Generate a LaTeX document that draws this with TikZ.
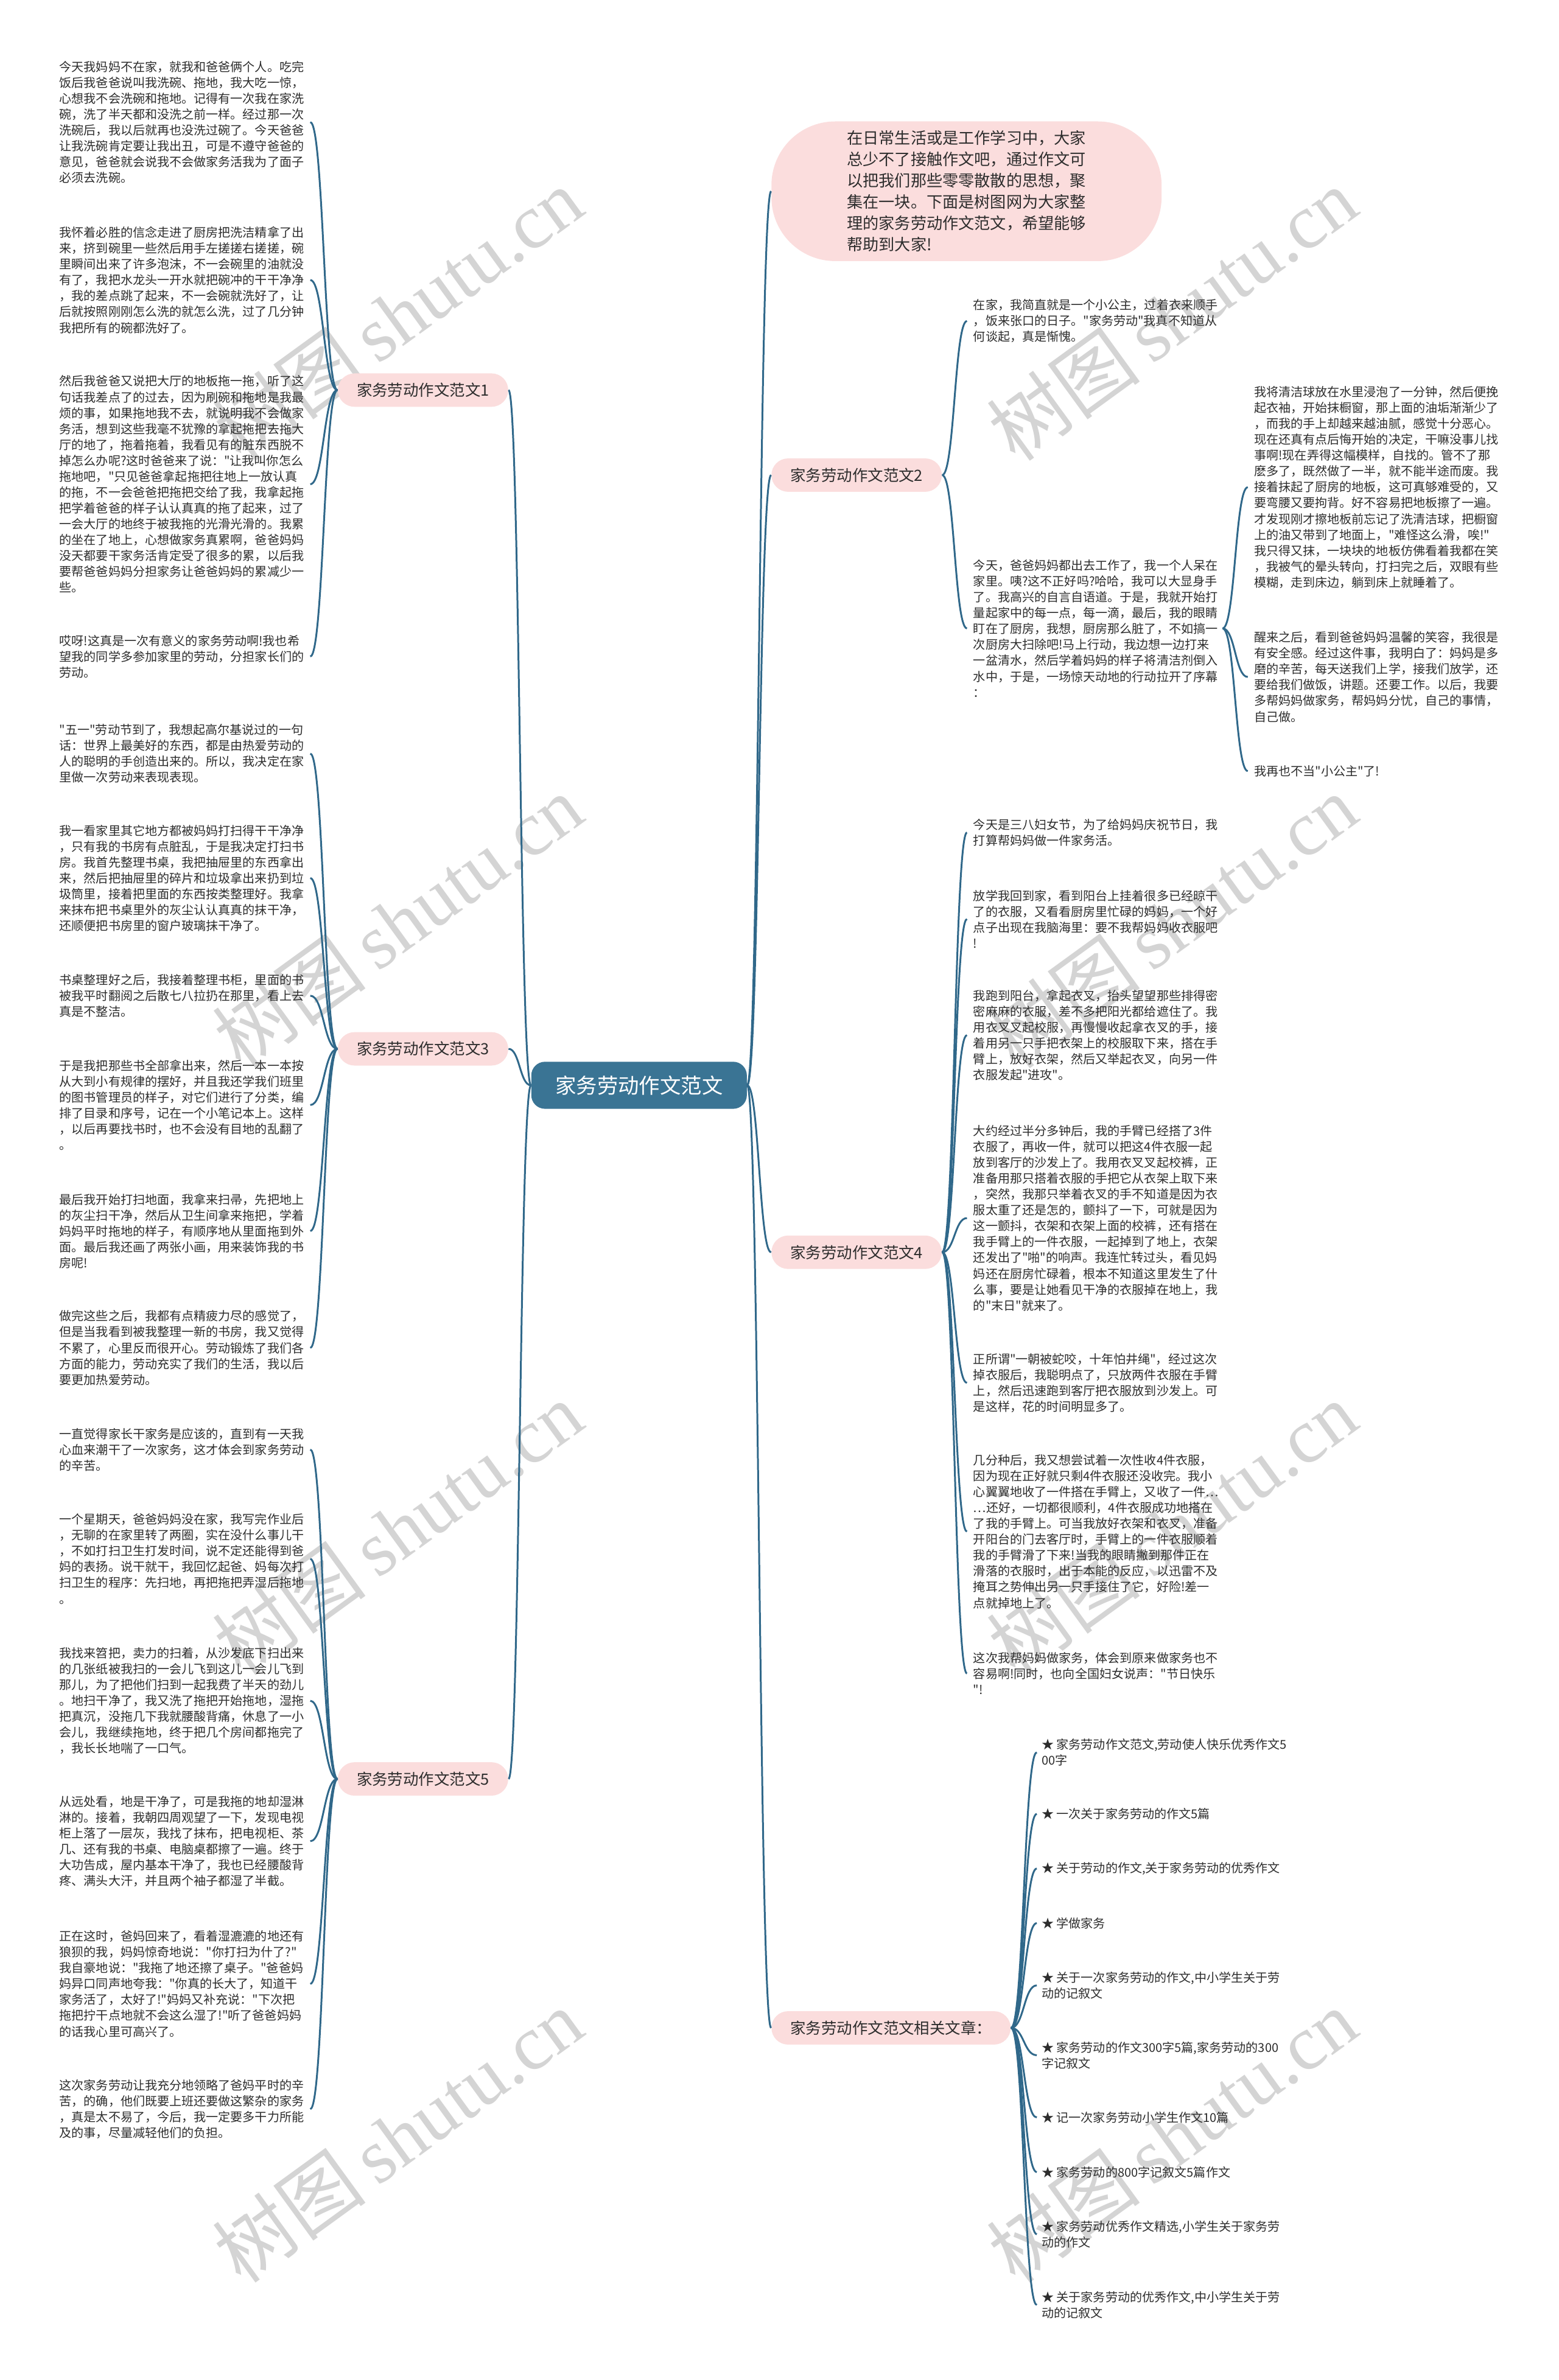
\documentclass[tikz,border=0pt]{standalone}
\usepackage{fontspec}
\setmainfont{Noto Sans CJK SC}
\newfontfamily\cjkfont{Noto Sans CJK SC}
\newfontfamily\wmfont{Liberation Serif}
\usetikzlibrary{positioning,calc}

\definecolor{mmblue}{RGB}{48,104,138}
\definecolor{mmroot}{RGB}{58,116,148}
\definecolor{mmpink}{RGB}{251,221,221}
\definecolor{mmtext}{RGB}{45,45,45}
\definecolor{wmgray}{RGB}{212,212,212}

\begin{document}
\begin{tikzpicture}[
    x=1pt, y=-1pt,
    root/.style={rectangle, rounded corners=9pt, fill=mmroot, text=white, font=\cjkfont\fontsize{13.8}{16}\selectfont, minimum width=142pt, minimum height=31pt},
    branch/.style={rectangle, rounded corners=11pt, fill=mmpink, text=mmtext, font=\cjkfont\fontsize{10.2}{12}\selectfont, minimum height=22pt, inner xsep=12.5pt},
    intro/.style={rectangle, rounded corners=42pt, fill=mmpink, text=mmtext, align=left, font=\cjkfont\fontsize{10.5}{14}\selectfont, minimum width=257pt, minimum height=92pt},
    leaf/.style={inner sep=0pt, align=left, text=mmtext, font=\cjkfont\fontsize{8.05}{10.45}\selectfont},
    line/.style={draw=mmblue, line width=1.2pt, to path={let \p1=(\tikztostart), \p2=(\tikztotarget) in .. controls ({(\x1+\x2)/2},\y1) and ({(\x1+\x2)/2},\y2) .. (\p2) \tikztonodes}},
    watermark/.style={text=wmgray, font=\cjkfont\fontsize{51}{51}\selectfont, rotate=36, inner sep=0pt}
]
    \fill [white] (0,0) rectangle (1027,1568);
    \useasboundingbox (0,0) rectangle (1027,1568);

    % Watermarks
    \node [watermark] (wm1) at (262,207) {树图\,{\wmfont shutu.cn}};
    \node [watermark] (wm2) at (262,607) {树图\,{\wmfont shutu.cn}};
    \node [watermark] (wm3) at (262,1007) {树图\,{\wmfont shutu.cn}};
    \node [watermark] (wm4) at (262,1407) {树图\,{\wmfont shutu.cn}};
    \node [watermark] (wm5) at (772,207) {树图\,{\wmfont shutu.cn}};
    \node [watermark] (wm6) at (772,607) {树图\,{\wmfont shutu.cn}};
    \node [watermark] (wm7) at (772,1007) {树图\,{\wmfont shutu.cn}};
    \node [watermark] (wm8) at (772,1407) {树图\,{\wmfont shutu.cn}};

    % Place nodes
    \node [root] (root) at (421,715) {家务劳动作文范文};

    \node [branch, anchor=east] (b1) at (335,257) {家务劳动作文范文1};
    \node [branch, anchor=east] (b3) at (335,691) {家务劳动作文范文3};
    \node [branch, anchor=east] (b5) at (335,1172) {家务劳动作文范文5};
    \node [branch, anchor=west] (b2) at (508,313) {家务劳动作文范文2};
    \node [branch, anchor=west] (b4) at (508,825) {家务劳动作文范文4};
    \node [branch, anchor=west] (b6) at (508,1336) {家务劳动作文范文相关文章：};

    \node [intro, anchor=west] (intro) at (508,126) {在日常生活或是工作学习中，大家\\
总少不了接触作文吧，通过作文可\\
以把我们那些零零散散的思想，聚\\
集在一块。下面是树图网为大家整\\
理的家务劳动作文范文，希望能够\\
帮助到大家!};

    % Essay 1
    \node [leaf, anchor=west] (l1a) at (39,80.5) {今天我妈妈不在家，就我和爸爸俩个人。吃完\\
饭后我爸爸说叫我洗碗、拖地，我大吃一惊，\\
心想我不会洗碗和拖地。记得有一次我在家洗\\
碗，洗了半天都和没洗之前一样。经过那一次\\
洗碗后，我以后就再也没洗过碗了。今天爸爸\\
让我洗碗肯定要让我出丑，可是不遵守爸爸的\\
意见，爸爸就会说我不会做家务活我为了面子\\
必须去洗碗。};
    \node [leaf, anchor=west] (l1b) at (39,184.5) {我怀着必胜的信念走进了厨房把洗洁精拿了出\\
来，挤到碗里一些然后用手左搓搓右搓搓，碗\\
里瞬间出来了许多泡沫，不一会碗里的油就没\\
有了，我把水龙头一开水就把碗冲的干干净净\\
，我的差点跳了起来，不一会碗就洗好了，让\\
后就按照刚刚怎么洗的就怎么洗，过了几分钟\\
我把所有的碗都洗好了。};
    \node [leaf, anchor=west] (l1c) at (39,319) {然后我爸爸又说把大厅的地板拖一拖，听了这\\
句话我差点了的过去，因为刷碗和拖地是我最\\
烦的事，如果拖地我不去，就说明我不会做家\\
务活，想到这些我毫不犹豫的拿起拖把去拖大\\
厅的地了，拖着拖着，我看见有的脏东西脱不\\
掉怎么办呢?这时爸爸来了说："让我叫你怎么\\
拖地吧，"只见爸爸拿起拖把往地上一放认真\\
的拖，不一会爸爸把拖把交给了我，我拿起拖\\
把学着爸爸的样子认认真真的拖了起来，过了\\
一会大厅的地终于被我拖的光滑光滑的。我累\\
的坐在了地上，心想做家务真累啊，爸爸妈妈\\
没天都要干家务活肯定受了很多的累，以后我\\
要帮爸爸妈妈分担家务让爸爸妈妈的累减少一\\
些。};
    \node [leaf, anchor=west] (l1d) at (39,432.5) {哎呀!这真是一次有意义的家务劳动啊!我也希\\
望我的同学多参加家里的劳动，分担家长们的\\
劳动。};

    % Essay 3
    \node [leaf, anchor=west] (l3a) at (39,496.5) {"五一"劳动节到了，我想起高尔基说过的一句\\
话：世界上最美好的东西，都是由热爱劳动的\\
人的聪明的手创造出来的。所以，我决定在家\\
里做一次劳动来表现表现。};
    \node [leaf, anchor=west] (l3b) at (39,578.5) {我一看家里其它地方都被妈妈打扫得干干净净\\
，只有我的书房有点脏乱，于是我决定打扫书\\
房。我首先整理书桌，我把抽屉里的东西拿出\\
来，然后把抽屉里的碎片和垃圾拿出来扔到垃\\
圾筒里，接着把里面的东西按类整理好。我拿\\
来抹布把书桌里外的灰尘认认真真的抹干净，\\
还顺便把书房里的窗户玻璃抹干净了。};
    \node [leaf, anchor=west] (l3c) at (39,656) {书桌整理好之后，我接着整理书柜，里面的书\\
被我平时翻阅之后散七八拉扔在那里，看上去\\
真是不整洁。};
    \node [leaf, anchor=west] (l3d) at (39,728) {于是我把那些书全部拿出来，然后一本一本按\\
从大到小有规律的摆好，并且我还学我们班里\\
的图书管理员的样子，对它们进行了分类，编\\
排了目录和序号，记在一个小笔记本上。这样\\
，以后再要找书时，也不会没有目地的乱翻了\\
。};
    \node [leaf, anchor=west] (l3e) at (39,811) {最后我开始打扫地面，我拿来扫帚，先把地上\\
的灰尘扫干净，然后从卫生间拿来拖把，学着\\
妈妈平时拖地的样子，有顺序地从里面拖到外\\
面。最后我还画了两张小画，用来装饰我的书\\
房呢!};
    \node [leaf, anchor=west] (l3f) at (39,888) {做完这些之后，我都有点精疲力尽的感觉了，\\
但是当我看到被我整理一新的书房，我又觉得\\
不累了，心里反而很开心。劳动锻炼了我们各\\
方面的能力，劳动充实了我们的生活，我以后\\
要更加热爱劳动。};

    % Essay 5
    \node [leaf, anchor=west] (l5a) at (39,955) {一直觉得家长干家务是应该的，直到有一天我\\
心血来潮干了一次家务，这才体会到家务劳动\\
的辛苦。};
    \node [leaf, anchor=west] (l5b) at (39,1027) {一个星期天，爸爸妈妈没在家，我写完作业后\\
，无聊的在家里转了两圈，实在没什么事儿干\\
，不如打扫卫生打发时间，说不定还能得到爸\\
妈的表扬。说干就干，我回忆起爸、妈每次打\\
扫卫生的程序：先扫地，再把拖把弄湿后拖地\\
。};
    \node [leaf, anchor=west] (l5c) at (39,1120.5) {我找来笤把，卖力的扫着，从沙发底下扫出来\\
的几张纸被我扫的一会儿飞到这儿一会儿飞到\\
那儿，为了把他们扫到一起我费了半天的劲儿\\
。地扫干净了，我又洗了拖把开始拖地，湿拖\\
把真沉，没拖几下我就腰酸背痛，休息了一小\\
会儿，我继续拖地，终于把几个房间都拖完了\\
，我长长地喘了一口气。};
    \node [leaf, anchor=west] (l5d) at (39,1213) {从远处看，地是干净了，可是我拖的地却湿淋\\
淋的。接着，我朝四周观望了一下，发现电视\\
柜上落了一层灰，我找了抹布，把电视柜、茶\\
几、还有我的书桌、电脑桌都擦了一遍。终于\\
大功告成，屋内基本干净了，我也已经腰酸背\\
疼、满头大汗，并且两个袖子都湿了半截。};
    \node [leaf, anchor=west] (l5e) at (39,1307) {正在这时，爸妈回来了，看着湿漉漉的地还有\\
狼狈的我，妈妈惊奇地说："你打扫为什了?"\\
我自豪地说："我拖了地还擦了桌子。"爸爸妈\\
妈异口同声地夸我："你真的长大了，知道干\\
家务活了，太好了!"妈妈又补充说："下次把\\
拖把拧干点地就不会这么湿了!"听了爸爸妈妈\\
的话我心里可高兴了。};
    \node [leaf, anchor=west] (l5f) at (39,1389.5) {这次家务劳动让我充分地领略了爸妈平时的辛\\
苦，的确，他们既要上班还要做这繁杂的家务\\
，真是太不易了，今后，我一定要多干力所能\\
及的事，尽量减轻他们的负担。};

    % Essay 2
    \node [leaf, anchor=west] (r2a) at (641,211.5) {在家，我简直就是一个小公主，过着衣来顺手\\
，饭来张口的日子。"家务劳动"我真不知道从\\
何谈起，真是惭愧。};
    \node [leaf, anchor=west] (r2b) at (641,414) {今天，爸爸妈妈都出去工作了，我一个人呆在\\
家里。咦?这不正好吗?哈哈，我可以大显身手\\
了。我高兴的自言自语道。于是，我就开始打\\
量起家中的每一点，每一滴，最后，我的眼睛\\
盯在了厨房，我想，厨房那么脏了，不如搞一\\
次厨房大扫除吧!马上行动，我边想一边打来\\
一盆清水，然后学着妈妈的样子将清洁剂倒入\\
水中，于是，一场惊天动地的行动拉开了序幕\\
：};
    \node [leaf, anchor=west] (fr1) at (826,321) {我将清洁球放在水里浸泡了一分钟，然后便挽\\
起衣袖，开始抹橱窗，那上面的油垢渐渐少了\\
，而我的手上却越来越油腻，感觉十分恶心。\\
现在还真有点后悔开始的决定，干嘛没事儿找\\
事啊!现在弄得这幅模样，自找的。管不了那\\
麽多了，既然做了一半，就不能半途而废。我\\
接着抹起了厨房的地板，这可真够难受的，又\\
要弯腰又要拘背。好不容易把地板擦了一遍。\\
才发现刚才擦地板前忘记了洗清洁球，把橱窗\\
上的油又带到了地面上，"难怪这么滑，唉!"\\
我只得又抹，一块块的地板仿佛看着我都在笑\\
，我被气的晕头转向，打扫完之后，双眼有些\\
模糊，走到床边，躺到床上就睡着了。};
    \node [leaf, anchor=west] (fr2) at (826,446) {醒来之后，看到爸爸妈妈温馨的笑容，我很是\\
有安全感。经过这件事，我明白了：妈妈是多\\
磨的辛苦，每天送我们上学，接我们放学，还\\
要给我们做饭，讲题。还要工作。以后，我要\\
多帮妈妈做家务，帮妈妈分忧，自己的事情，\\
自己做。};
    \node [leaf, anchor=west] (fr3) at (826,508) {我再也不当"小公主"了!};

    % Essay 4
    \node [leaf, anchor=west] (r4a) at (641,548.5) {今天是三八妇女节，为了给妈妈庆祝节日，我\\
打算帮妈妈做一件家务活。};
    \node [leaf, anchor=west] (r4b) at (641,605.5) {放学我回到家，看到阳台上挂着很多已经晾干\\
了的衣服，又看看厨房里忙碌的妈妈，一个好\\
点子出现在我脑海里：要不我帮妈妈收衣服吧\\
!};
    \node [leaf, anchor=west] (r4c) at (641,682) {我跑到阳台，拿起衣叉，抬头望望那些排得密\\
密麻麻的衣服，差不多把阳光都给遮住了。我\\
用衣叉叉起校服，再慢慢收起拿衣叉的手，接\\
着用另一只手把衣架上的校服取下来，搭在手\\
臂上，放好衣架，然后又举起衣叉，向另一件\\
衣服发起"进攻"。};
    \node [leaf, anchor=west] (r4d) at (641,802.5) {大约经过半分多钟后，我的手臂已经搭了3件\\
衣服了，再收一件，就可以把这4件衣服一起\\
放到客厅的沙发上了。我用衣叉叉起校裤，正\\
准备用那只搭着衣服的手把它从衣架上取下来\\
，突然，我那只举着衣叉的手不知道是因为衣\\
服太重了还是怎的，颤抖了一下，可就是因为\\
这一颤抖，衣架和衣架上面的校裤，还有搭在\\
我手臂上的一件衣服，一起掉到了地上，衣架\\
还发出了"啪"的响声。我连忙转过头，看见妈\\
妈还在厨房忙碌着，根本不知道这里发生了什\\
么事，要是让她看见干净的衣服掉在地上，我\\
的"末日"就来了。};
    \node [leaf, anchor=west] (r4e) at (641,911) {正所谓"一朝被蛇咬，十年怕井绳"，经过这次\\
掉衣服后，我聪明点了，只放两件衣服在手臂\\
上，然后迅速跑到客厅把衣服放到沙发上。可\\
是这样，花的时间明显多了。};
    \node [leaf, anchor=west] (r4f) at (641,1009) {几分种后，我又想尝试着一次性收4件衣服，\\
因为现在正好就只剩4件衣服还没收完。我小\\
心翼翼地收了一件搭在手臂上，又收了一件…\\
…还好，一切都很顺利，4件衣服成功地搭在\\
了我的手臂上。可当我放好衣架和衣叉，准备\\
开阳台的门去客厅时，手臂上的一件衣服顺着\\
我的手臂滑了下来!当我的眼睛撇到那件正在\\
滑落的衣服时，出于本能的反应，以迅雷不及\\
掩耳之势伸出另一只手接住了它，好险!差一\\
点就掉地上了。};
    \node [leaf, anchor=west] (r4g) at (641,1102.5) {这次我帮妈妈做家务，体会到原来做家务也不\\
容易啊!同时，也向全国妇女说声："节日快乐\\
"!};

    % Related articles
    \node [leaf, anchor=west] (a1) at (686,1154.5) {★ 家务劳动作文范文,劳动使人快乐优秀作文5\\
00字};
    \node [leaf, anchor=west] (a2) at (686,1195) {★ 一次关于家务劳动的作文5篇};
    \node [leaf, anchor=west] (a3) at (686,1231) {★ 关于劳动的作文,关于家务劳动的优秀作文};
    \node [leaf, anchor=west] (a4) at (686,1267) {★ 学做家务};
    \node [leaf, anchor=west] (a5) at (686,1308) {★ 关于一次家务劳动的作文,中小学生关于劳\\
动的记叙文};
    \node [leaf, anchor=west] (a6) at (686,1354) {★ 家务劳动的作文300字5篇,家务劳动的300\\
字记叙文};
    \node [leaf, anchor=west] (a7) at (686,1395) {★ 记一次家务劳动小学生作文10篇};
    \node [leaf, anchor=west] (a8) at (686,1431) {★ 家务劳动的800字记叙文5篇作文};
    \node [leaf, anchor=west] (a9) at (686,1472) {★ 家务劳动优秀作文精选,小学生关于家务劳\\
动的作文};
    \node [leaf, anchor=west] (a10) at (686,1518.5) {★ 关于家务劳动的优秀作文,中小学生关于劳\\
动的记叙文};

    % Draw edges
    \path [line] (root.west) to (b1.east);
    \path [line] (root.west) to (b3.east);
    \path [line] (root.west) to (b5.east);
    \path [line] (root.east) to (intro.west);
    \path [line] (root.east) to (b2.west);
    \path [line] (root.east) to (b4.west);
    \path [line] (root.east) to (b6.west);

    \path [line] (b1.west) to ([xshift=4pt]l1a.east);
    \path [line] (b1.west) to ([xshift=4pt]l1b.east);
    \path [line] (b1.west) to ([xshift=4pt]l1c.east);
    \path [line] (b1.west) to ([xshift=4pt]l1d.east);

    \path [line] (b3.west) to ([xshift=4pt]l3a.east);
    \path [line] (b3.west) to ([xshift=4pt]l3b.east);
    \path [line] (b3.west) to ([xshift=4pt]l3c.east);
    \path [line] (b3.west) to ([xshift=4pt]l3d.east);
    \path [line] (b3.west) to ([xshift=4pt]l3e.east);
    \path [line] (b3.west) to ([xshift=4pt]l3f.east);

    \path [line] (b5.west) to ([xshift=4pt]l5a.east);
    \path [line] (b5.west) to ([xshift=4pt]l5b.east);
    \path [line] (b5.west) to ([xshift=4pt]l5c.east);
    \path [line] (b5.west) to ([xshift=4pt]l5d.east);
    \path [line] (b5.west) to ([xshift=4pt]l5e.east);
    \path [line] (b5.west) to ([xshift=4pt]l5f.east);

    \path [line] (b2.east) to ([xshift=-4pt]r2a.west);
    \path [line] (b2.east) to ([xshift=-4pt]r2b.west);
    \path [line] ([xshift=3pt]r2b.east) to ([xshift=-4pt]fr1.west);
    \path [line] ([xshift=3pt]r2b.east) to ([xshift=-4pt]fr2.west);
    \path [line] ([xshift=3pt]r2b.east) to ([xshift=-4pt]fr3.west);

    \path [line] (b4.east) to ([xshift=-4pt]r4a.west);
    \path [line] (b4.east) to ([xshift=-4pt]r4b.west);
    \path [line] (b4.east) to ([xshift=-4pt]r4c.west);
    \path [line] (b4.east) to ([xshift=-4pt]r4d.west);
    \path [line] (b4.east) to ([xshift=-4pt]r4e.west);
    \path [line] (b4.east) to ([xshift=-4pt]r4f.west);
    \path [line] (b4.east) to ([xshift=-4pt]r4g.west);

    \path [line] (b6.east) to ([xshift=-3pt]a1.west);
    \path [line] (b6.east) to ([xshift=-3pt]a2.west);
    \path [line] (b6.east) to ([xshift=-3pt]a3.west);
    \path [line] (b6.east) to ([xshift=-3pt]a4.west);
    \path [line] (b6.east) to ([xshift=-3pt]a5.west);
    \path [line] (b6.east) to ([xshift=-3pt]a6.west);
    \path [line] (b6.east) to ([xshift=-3pt]a7.west);
    \path [line] (b6.east) to ([xshift=-3pt]a8.west);
    \path [line] (b6.east) to ([xshift=-3pt]a9.west);
    \path [line] (b6.east) to ([xshift=-3pt]a10.west);
\end{tikzpicture}
\end{document}
